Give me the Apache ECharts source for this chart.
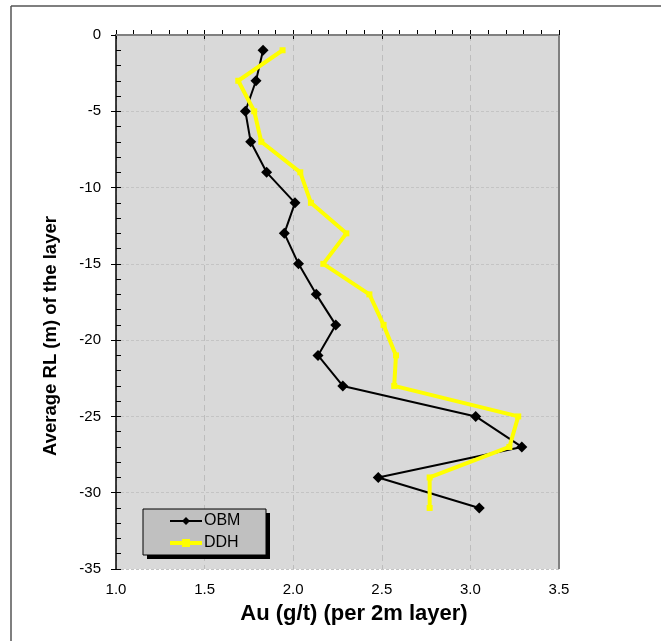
<!DOCTYPE html>
<html>
<head>
<meta charset="utf-8">
<script src="https://cdn.jsdelivr.net/npm/echarts@6/dist/echarts.min.js"></script>
<style>
html,body{margin:0;padding:0;background:#fff;}
#c{width:661px;height:641px;}
</style>
</head>
<body>
<div id="c"></div>
<script>
// Average RL (m) of each 2m layer
const depths = [-1, -3, -5, -7, -9, -11, -13, -15, -17, -19, -21, -23, -25, -27, -29, -31];
// Au grades (g/t)
const obmValues = [1.83, 1.79, 1.73, 1.76, 1.85, 2.01, 1.95, 2.03, 2.13, 2.24, 2.14, 2.28, 3.03, 3.29, 2.48, 3.05];
const ddhValues = [1.94, 1.69, 1.78, 1.82, 2.04, 2.10, 2.30, 2.17, 2.43, 2.51, 2.58, 2.57, 3.27, 3.22, 2.77, 2.77];
const seriesNames = ['OBM', 'DDH'];
const xTitle = 'Au (g/t) (per 2m layer)';
const yTitle = 'Average RL (m) of the layer';

const pair = (xs) => xs.map((v, i) => [v, depths[i]]);
const font = 'Arial, "Liberation Sans", sans-serif';

const chart = echarts.init(document.getElementById('c'));
chart.setOption({
  animation: false,
  backgroundColor: '#fff',
  grid: { left: 116, top: 35, right: 102, bottom: 72, show: true, backgroundColor: '#d9d9d9', borderWidth: 0 },
  xAxis: [{
    type: 'value', min: 1, max: 3.5, interval: 0.5,
    axisLine: { show: true, lineStyle: { color: '#000', width: 1.5 } },
    axisTick: { show: true, inside: false, length: 4, lineStyle: { color: '#000', width: 1 } },
    axisLabel: { fontFamily: font, fontSize: 15, color: '#000', margin: 13, formatter: v => v.toFixed(1) },
    splitLine: { show: true, lineStyle: { color: '#bdbdbd', type: [6, 4], width: 1 } }
  }, {
    type: 'value', min: 1, max: 3.5, interval: 0.1, position: 'bottom',
    axisLine: { show: false },
    axisTick: { show: true, inside: true, length: 5, lineStyle: { color: '#000', width: 1 } },
    axisLabel: { show: false }, splitLine: { show: false }
  }],
  yAxis: [{
    type: 'value', min: -35, max: 0, interval: 5,
    axisLine: { show: true, lineStyle: { color: '#000', width: 1.5 } },
    axisTick: { show: true, inside: false, length: 5, lineStyle: { color: '#000', width: 1 } },
    axisLabel: { fontFamily: font, fontSize: 15, color: '#000', margin: 15 },
    splitLine: { show: true, lineStyle: { color: '#c4c4c4', type: [3, 2], width: 1 } }
  }, {
    type: 'value', min: -35, max: 0, interval: 1, position: 'left',
    axisLine: { show: false },
    axisTick: { show: true, inside: true, length: 5, lineStyle: { color: '#000', width: 1 } },
    axisLabel: { show: false }, splitLine: { show: false }
  }],
  legend: {
    left: 143, top: 513, orient: 'vertical', z: 20,
    padding: [0, 0, 0, 25], itemWidth: 32, itemHeight: 10, itemGap: 6,
    textStyle: { fontFamily: font, fontSize: 16, color: '#000', padding: [0, 0, 0, -3] },
    data: [
      { name: seriesNames[0], lineStyle: { width: 2 } },
      { name: seriesNames[1], lineStyle: { width: 4 } }
    ]
  },
  graphic: [
    { type: 'rect', z: 15, shape: { x: 147, y: 513, width: 123, height: 46 }, style: { fill: '#000' } },
    { type: 'rect', z: 16, shape: { x: 143, y: 509, width: 123, height: 46 }, style: { fill: '#c0c0c0', stroke: '#000', lineWidth: 1 } },
    { type: 'line', z: 1, shape: { x1: 116, y1: 35, x2: 559, y2: 35 }, style: { stroke: '#808080', lineWidth: 2 } },
    { type: 'line', z: 1, shape: { x1: 559, y1: 35, x2: 559, y2: 569 }, style: { stroke: '#808080', lineWidth: 2 } },
    { type: 'line', shape: { x1: 11, y1: 6, x2: 661, y2: 6 }, style: { stroke: '#555', lineWidth: 1.5 } },
    { type: 'line', shape: { x1: 11, y1: 6, x2: 11, y2: 641 }, style: { stroke: '#555', lineWidth: 1.5 } },
    { type: 'text', x: 354, y: 614, style: { text: xTitle, font: 'bold 22px ' + font, fill: '#000', align: 'center', verticalAlign: 'middle' } },
    { type: 'text', x: 51, y: 336, rotation: Math.PI / 2, style: { text: yTitle, font: 'bold 18.5px ' + font, fill: '#000', align: 'center', verticalAlign: 'middle' } }
  ],
  series: [{
    name: seriesNames[0], type: 'line', data: pair(obmValues),
    symbol: 'diamond', symbolSize: 11, showAllSymbol: true,
    lineStyle: { color: '#000', width: 2 }, itemStyle: { color: '#000' }
  }, {
    name: seriesNames[1], type: 'line', data: pair(ddhValues),
    symbol: 'rect', symbolSize: 6, showAllSymbol: true,
    lineStyle: { color: '#ffff00', width: 4 }, itemStyle: { color: '#ffff00' }
  }]
});
</script>
</body>
</html>
